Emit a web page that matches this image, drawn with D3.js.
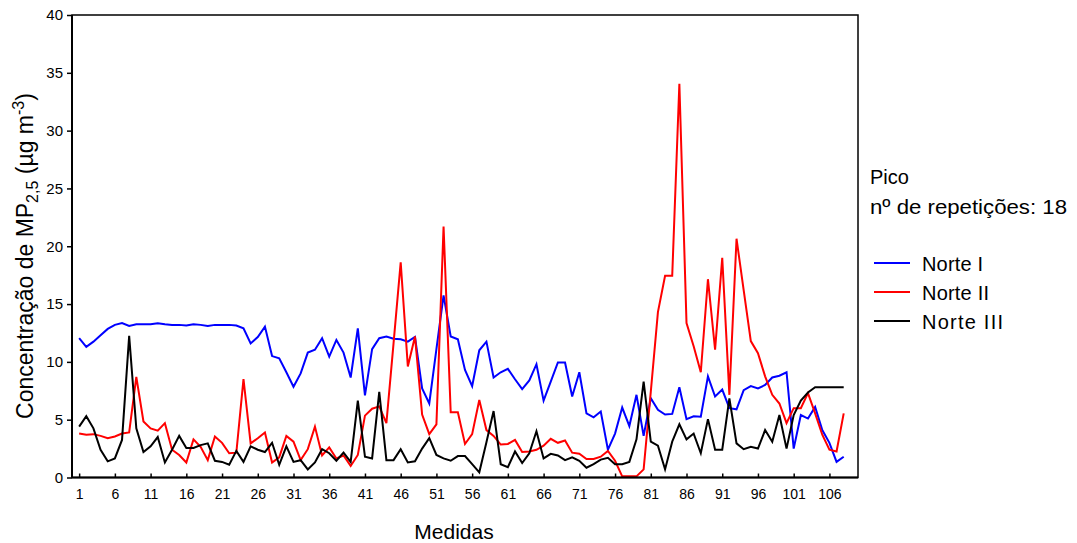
<!DOCTYPE html>
<html>
<head>
<meta charset="utf-8">
<script src="https://cdn.jsdelivr.net/npm/d3@7"></script>
<style>
  html, body { margin: 0; padding: 0; background: #fff; }
  svg { display: block; font-family: "Liberation Sans", Arial, sans-serif; }
</style>
</head>
<body>
<svg id="chart" width="1077" height="543"></svg>
<script>
// PM2.5 concentration, three northern stations, 108 measurements
const norteI = [
  12.05, 11.3, 11.75, 12.3, 12.85, 13.2, 13.35, 13.1, 13.25, 13.25,
  13.25, 13.35, 13.25, 13.2, 13.2, 13.15, 13.25, 13.2, 13.1, 13.2,
  13.2, 13.2, 13.15, 12.9, 11.6, 12.15, 13.05, 10.5, 10.3, 9.1,
  7.85, 9.0, 10.8, 11.05, 12.05, 10.45, 11.9, 10.8, 8.65, 12.9,
  7.1, 11.1, 12.05, 12.2, 12.0, 11.95, 11.75, 12.15, 7.7, 6.4,
  11.1, 15.75, 12.2, 11.95, 9.3, 7.9, 11.0, 11.75, 8.65, 9.1,
  9.4, 8.5, 7.65, 8.4, 9.8, 6.65, 8.3, 9.95, 9.95, 7.0,
  9.1, 5.55, 5.2, 5.7, 2.4, 3.8, 6.05, 4.45, 7.15, 3.6,
  6.85, 5.85, 5.45, 5.5, 7.8, 5.05, 5.3, 5.25, 8.75, 7.0,
  7.6, 6.0, 5.9, 7.55, 7.9, 7.7, 8.0, 8.65, 8.8, 9.1,
  2.5, 5.4, 5.1, 6.1, 4.1, 3.0, 1.35, 1.8
];
const norteII = [
  3.8, 3.7, 3.75, 3.6, 3.4, 3.55, 3.8, 3.9, 8.7, 4.85,
  4.25, 4.05, 4.7, 2.4, 1.95, 1.3, 3.3, 2.65, 1.5, 3.55,
  3.0, 2.1, 2.15, 8.5, 2.95, 3.4, 3.9, 1.3, 1.75, 3.6,
  3.1, 1.5, 2.45, 4.4, 1.9, 2.6, 1.65, 1.9, 1.0, 1.95,
  5.35, 5.95, 6.15, 4.7, 11.6, 18.6, 9.6, 12.2, 5.45, 3.75,
  4.6, 21.7, 5.65, 5.65, 2.9, 3.75, 6.7, 4.1, 3.6, 2.85,
  2.9, 3.25, 2.2, 2.25, 2.4, 2.75, 3.35, 3.0, 3.2, 2.15,
  2.05, 1.6, 1.6, 1.8, 2.3, 1.45, 0.1, 0.1, 0.1, 0.7,
  7.4, 14.3, 17.45, 17.45, 34.05, 13.35, 11.35, 9.1, 17.15, 11.05,
  19.0, 7.15, 20.65, 16.2, 11.8, 10.75, 8.75, 7.15, 6.4, 4.7,
  6.0, 6.0, 7.3, 5.55, 3.7, 2.4, 2.25, 5.55
];
const norteIII = [
  4.4, 5.3, 4.25, 2.4, 1.4, 1.65, 3.25, 12.25, 4.25, 2.2,
  2.7, 3.5, 1.3, 2.4, 3.6, 2.55, 2.55, 2.8, 2.95, 1.45,
  1.35, 1.1, 2.3, 1.35, 2.7, 2.4, 2.2, 3.0, 1.1, 2.7,
  1.35, 1.5, 0.7, 1.3, 2.45, 2.1, 1.45, 2.15, 1.35, 6.65,
  1.8, 1.65, 7.4, 1.5, 1.5, 2.45, 1.3, 1.4, 2.5, 3.4,
  1.95, 1.65, 1.45, 1.85, 1.85, 1.15, 0.45, 3.05, 5.75, 1.15,
  0.9, 2.25, 1.25, 2.1, 4.0, 1.65, 2.05, 1.9, 1.5, 1.75,
  1.45, 0.85, 1.15, 1.55, 1.7, 1.15, 1.15, 1.35, 3.3, 8.3,
  3.1, 2.75, 0.7, 3.1, 4.6, 3.3, 3.8, 2.1, 5.05, 2.4,
  2.4, 6.85, 2.95, 2.45, 2.65, 2.5, 4.1, 3.1, 5.4, 2.5,
  5.4, 6.65, 7.35, 7.8, 7.8, 7.8, 7.8, 7.8
];

const seriesNames = ["Norte I", "Norte II", "Norte III"];
const seriesColors = ["#0000ff", "#ff0000", "#000000"];
const xTicks = [1, 6, 11, 16, 21, 26, 31, 36, 41, 46, 51, 56, 61, 66, 71, 76, 81, 86, 91, 96, 101, 106];
const yTicks = [0, 5, 10, 15, 20, 25, 30, 35, 40];

const svg = d3.select("#chart");
const plot = { left: 72, right: 858, top: 15, bottom: 477.5 };

const x = d3.scaleLinear().domain([0, 110]).range([plot.left, plot.right]);
const y = d3.scaleLinear().domain([0, 40]).range([plot.bottom, plot.top]);

// y axis: ticks pointing outward
const yAxis = svg.append("g")
  .attr("transform", `translate(${plot.left},0)`)
  .call(d3.axisLeft(y).tickValues(yTicks).tickSize(5).tickPadding(4).tickFormat(d3.format("d")));
yAxis.select(".domain").remove();
yAxis.selectAll(".tick line").attr("stroke", "#000").attr("stroke-width", 1.5);
yAxis.selectAll(".tick text")
  .attr("font-family", "Liberation Sans, Arial, sans-serif")
  .attr("font-size", 15).attr("fill", "#000");

// x axis: ticks pointing inward
const xAxis = svg.append("g")
  .attr("transform", `translate(0,${plot.bottom})`)
  .call(d3.axisBottom(x).tickValues(xTicks).tickSize(-4).tickPadding(12).tickFormat(d3.format("d")));
xAxis.select(".domain").remove();
xAxis.selectAll(".tick line").attr("stroke", "#000").attr("stroke-width", 1.5);
xAxis.selectAll(".tick text")
  .attr("font-family", "Liberation Sans, Arial, sans-serif")
  .attr("font-size", 14).attr("fill", "#000");

// data lines
const data = [norteI, norteII, norteIII];
const line = d3.line().x((d, i) => x(i + 1)).y(d => y(d));
svg.append("g").selectAll("path")
  .data(data)
  .join("path")
  .attr("d", line)
  .attr("fill", "none")
  .attr("stroke", (d, i) => seriesColors[i])
  .attr("stroke-width", 2)
  .attr("stroke-linejoin", "miter");

// plot frame
svg.append("rect")
  .attr("x", plot.left).attr("y", plot.top)
  .attr("width", plot.right - plot.left).attr("height", plot.bottom - plot.top)
  .attr("fill", "none").attr("stroke", "#000").attr("stroke-width", 1.5);
svg.append("line")
  .attr("x1", plot.left).attr("x2", plot.left).attr("y1", plot.top).attr("y2", plot.bottom)
  .attr("stroke", "#000").attr("stroke-width", 2);
svg.append("line")
  .attr("x1", plot.left).attr("x2", plot.right).attr("y1", plot.bottom).attr("y2", plot.bottom)
  .attr("stroke", "#000").attr("stroke-width", 2);

// axis titles
svg.append("text")
  .attr("x", 454).attr("y", 539)
  .attr("text-anchor", "middle").attr("font-size", 21)
  .text("Medidas");

const yTitle = svg.append("text")
  .attr("transform", "translate(33,256) rotate(-90)")
  .attr("text-anchor", "middle").attr("font-size", 23);
yTitle.append("tspan").text("Concentração de MP");
yTitle.append("tspan").attr("font-size", 16).attr("dy", 5).text("2,5");
yTitle.append("tspan").attr("dy", -5).text(" (µg m");
yTitle.append("tspan").attr("font-size", 16).attr("dy", -9).text("-3");
yTitle.append("tspan").attr("dy", 9).text(")");

// legend
const legend = svg.append("g").attr("font-size", 20);
legend.append("text").attr("x", 870).attr("y", 184).text("Pico");
legend.append("text").attr("x", 870).attr("y", 214)
  .attr("textLength", 197).attr("lengthAdjust", "spacingAndGlyphs")
  .text("nº de repetições: 18");
const items = legend.selectAll("g.item")
  .data(seriesNames)
  .join("g")
  .attr("class", "item")
  .attr("transform", (d, i) => `translate(0,${263 + i * 29})`);
items.append("line")
  .attr("x1", 874).attr("x2", 910)
  .attr("stroke", (d, i) => seriesColors[i]).attr("stroke-width", 2);
items.append("text")
  .attr("x", 922).attr("y", 8)
  .attr("textLength", (d, i) => [61, 67, 81][i]).attr("lengthAdjust", "spacing")
  .text(d => d);
</script>
</body>
</html>
